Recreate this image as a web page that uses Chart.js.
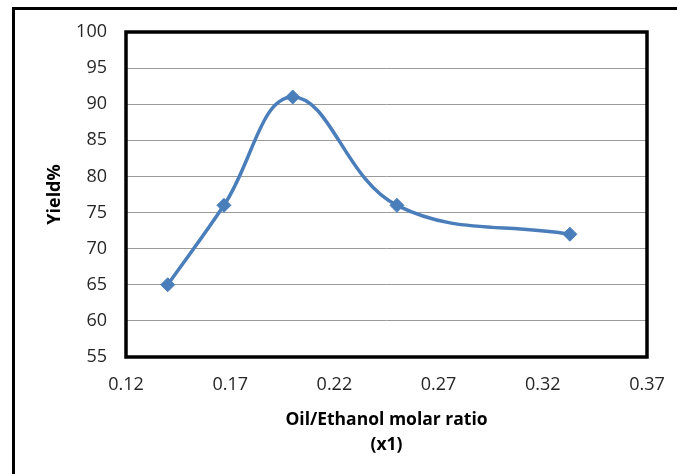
<!DOCTYPE html>
<html>
<head>
<meta charset="utf-8">
<script src="https://cdn.jsdelivr.net/npm/chart.js@4"></script>
<style>
  html, body { margin: 0; padding: 0; background: #fff; overflow: hidden; }
  .frame { position: absolute; left: 12px; top: 7px; width: 900px; height: 700px; border: 3px solid #000; }
  .wrap { position: absolute; left: 0; top: 0; width: 677px; height: 474px; }
</style>
</head>
<body>
<div class="frame"></div>
<div class="wrap"><canvas id="chart" width="677" height="474"></canvas></div>
<script>
// Oil/Ethanol molar ratio vs yield
const ratios = [0.14, 0.167, 0.2, 0.25, 0.333];
const yields = [65, 76, 91, 76, 72];
const xTicks = [0.12, 0.17, 0.22, 0.27, 0.32, 0.37];
const yTicks = [55, 60, 65, 70, 75, 80, 85, 90, 95, 100];

const blue = "#4A7EBB";

// black box round the plot area
const plotBorder = {
  id: "plotBorder",
  afterDatasetsDraw(chart) {
    const { ctx, chartArea: a } = chart;
    ctx.save();
    ctx.strokeStyle = "#000";
    ctx.lineWidth = 3.5;
    ctx.strokeRect(a.left, a.top, a.right - a.left, a.bottom - a.top);
    ctx.restore();
  },
};

new Chart(document.getElementById("chart").getContext("2d"), {
  type: "scatter",
  data: {
    datasets: [
      {
        data: ratios.map((x, i) => ({ x: x, y: yields[i] })),
        showLine: true,
        tension: 0.4,
        borderColor: blue,
        borderWidth: 3.5,
        backgroundColor: blue,
        pointStyle: "rectRot",
        pointRadius: 7,
        pointBorderWidth: 1,
        pointBorderColor: blue,
      },
    ],
  },
  options: {
    responsive: false,
    animation: false,
    layout: { padding: { top: 32, right: 30, left: 0, bottom: 0 }, autoPadding: false },
    plugins: { legend: { display: false }, tooltip: { enabled: false } },
    scales: {
      x: {
        type: "linear",
        min: 0.12,
        max: 0.37,
        afterBuildTicks: (s) => { s.ticks = xTicks.map((v) => ({ value: v })); },
        afterFit: (s) => { s.height = 117; s.paddingLeft = 0; s.paddingRight = 0; },
        grid: { display: false, drawTicks: false },
        border: { display: false },
        ticks: {
          padding: 17,
          color: "#262626",
          font: { family: "Open Sans", size: 18 },
          callback: (v) => v.toFixed(2),
        },
        title: {
          display: true,
          text: ["Oil/Ethanol molar ratio", "(x1)"],
          color: "#000",
          font: { family: "Open Sans", size: 17.5, weight: "bold", lineHeight: 1.43 },
          padding: { top: 0, bottom: 16 },
        },
      },
      y: {
        min: 55,
        max: 100,
        afterBuildTicks: (s) => { s.ticks = yTicks.map((v) => ({ value: v })); },
        afterFit: (s) => { s.width = 126; s.paddingTop = 0; s.paddingBottom = 0; },
        grid: { color: "#9a9a9a", lineWidth: 1, drawTicks: false },
        border: { display: false },
        ticks: {
          padding: 19,
          color: "#262626",
          font: { family: "Open Sans", size: 18 },
        },
        title: {
          display: true,
          text: "Yield%",
          color: "#000",
          font: { family: "Open Sans", size: 18, weight: "bold", lineHeight: 1.2 },
          padding: { top: 44, bottom: 0 },
        },
      },
    },
  },
  plugins: [plotBorder],
});
</script>
</body>
</html>
